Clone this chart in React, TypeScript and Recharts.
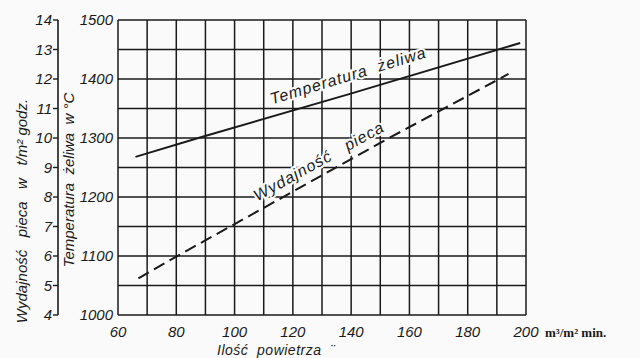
import React from 'react';
import { LineChart, Line, XAxis, YAxis, CartesianGrid, ReferenceDot } from 'recharts';

const tempAir = [66, 89, 139, 198];
const tempValues = [1268, 1302, 1374, 1461];
const wydAir = [67, 80, 153, 194];
const wydValues = [5.24, 5.98, 10.0, 12.17];
const xTicks = [60, 70, 80, 90, 100, 110, 120, 130, 140, 150, 160, 170, 180, 190, 200];
const tempTicks = [1000, 1050, 1100, 1150, 1200, 1250, 1300, 1350, 1400, 1450, 1500];
const wydTicks = [4, 5, 6, 7, 8, 9, 10, 11, 12, 13, 14];

const tempData = tempAir.map((x, i) => ({ x, t: tempValues[i] }));
const wydData = wydAir.map((x, i) => ({ x, w: wydValues[i] }));

const FONT = '"Liberation Sans", Arial, sans-serif';
const INK = '#1a1a1a';
const BG = '#fafafa';

const italicTick = (anchor: string, dy: number, filter?: (v: number) => boolean) => (props: any) => {
  const { x, y, payload } = props;
  const v = payload.value;
  if (filter && !filter(v)) return null;
  return (
    <text x={x} y={y} dy={dy} textAnchor={anchor} fontFamily={FONT} fontStyle="italic" fontSize={15} fill={INK}>
      {v}
    </text>
  );
};

export default function App() {
  return (
    <div style={{ position: 'absolute', left: 0, top: 0, width: 640, height: 358, background: BG }}>
      <LineChart width={640} height={358} margin={{ top: 20, right: 114, bottom: 13, left: 0 }}>
        <CartesianGrid yAxisId="temp" stroke={INK} strokeWidth={1.5} strokeOpacity={1} />
        <XAxis
          dataKey="x"
          type="number"
          domain={[60, 200]}
          ticks={xTicks}
          allowDataOverflow
          height={30}
          axisLine={false}
          tickLine={false}
          tickMargin={2}
          interval={0}
          tick={italicTick('middle', 14, (v) => v % 20 === 0)}
          label={{
            content: (p: any) => {
              const vb = p.viewBox;
              return (
                <g>
                  <text x={vb.x + vb.width + 19} y={337} fontFamily='"Liberation Serif", serif' fontWeight="bold" fontSize={13} fill={INK}>
                    m³/m² min.
                  </text>
                  <text x={vb.x + 99} y={355} fontFamily={FONT} fontStyle="italic" fontSize={14} letterSpacing={0.5} fill={INK} style={{ whiteSpace: 'pre' }}>
                    Ilość  powietrza  ¨
                  </text>
                </g>
              );
            },
          }}
        />
        <YAxis
          yAxisId="temp"
          orientation="left"
          type="number"
          domain={[1000, 1500]}
          ticks={tempTicks}
          interval={0}
          width={60}
          axisLine={false}
          tickLine={false}
          tickSize={0}
          tickMargin={5}
          tick={italicTick('end', 5, (v) => v % 100 === 0)}
          label={{
            content: (p: any) => {
              const vb = p.viewBox;
              const cx = vb.x + 16;
              const cy = 180;
              return (
                <text x={cx} y={cy} transform={`rotate(-90 ${cx} ${cy})`} textAnchor="middle" fontFamily={FONT} fontStyle="italic" fontSize={15} fill={INK} style={{ whiteSpace: 'pre' }}>
                  Temperatura  żeliwa  w °C
                </text>
              );
            },
          }}
        />
        <YAxis
          yAxisId="wyd"
          orientation="left"
          type="number"
          domain={[4, 14]}
          ticks={wydTicks}
          interval={0}
          width={58}
          axisLine={{ stroke: INK, strokeWidth: 1.6 }}
          tickLine={{ stroke: INK, strokeWidth: 1.4 }}
          tickSize={5}
          tickMargin={1}
          tick={italicTick('end', 5)}
          label={{
            content: (p: any) => {
              const vb = p.viewBox;
              const cx = vb.x + 27;
              const cy = 211;
              return (
                <text x={cx} y={cy} transform={`rotate(-90 ${cx} ${cy})`} textAnchor="middle" fontFamily={FONT} fontStyle="italic" fontSize={15} fill={INK} style={{ whiteSpace: 'pre' }}>
                  Wydajność   pieca   w   t/m² godz.
                </text>
              );
            },
          }}
        />
        <Line
          yAxisId="temp"
          data={tempData}
          dataKey="t"
          type="linear"
          stroke={INK}
          strokeWidth={2}
          dot={false}
          isAnimationActive={false}
        />
        <Line
          yAxisId="wyd"
          data={wydData}
          dataKey="w"
          type="linear"
          stroke={INK}
          strokeWidth={2}
          strokeDasharray="12 6"
          dot={false}
          isAnimationActive={false}
        />
        <ReferenceDot
          yAxisId="temp"
          x={139}
          y={1405}
          r={1}
          fill="none"
          stroke="none"
          label={{
            content: (p: any) => {
              const vb = p.viewBox;
              const cx = vb.x + vb.width / 2;
              const cy = vb.y + vb.height / 2;
              return (
                <text x={cx} y={cy} dy={5} transform={`rotate(-17 ${cx} ${cy})`} textAnchor="middle" fontFamily={FONT} fontStyle="italic" fontSize={16} letterSpacing={1} fill={INK} stroke={BG} strokeWidth={4} paintOrder="stroke" style={{ whiteSpace: 'pre' }}>
                  Temperatura  żeliwa
                </text>
              );
            },
          }}
        />
        <ReferenceDot
          yAxisId="wyd"
          x={129}
          y={9.2}
          r={1}
          fill="none"
          stroke="none"
          label={{
            content: (p: any) => {
              const vb = p.viewBox;
              const cx = vb.x + vb.width / 2;
              const cy = vb.y + vb.height / 2;
              return (
                <text x={cx} y={cy} dy={5} transform={`rotate(-29 ${cx} ${cy})`} textAnchor="middle" fontFamily={FONT} fontStyle="italic" fontSize={16} letterSpacing={1} fill={INK} stroke={BG} strokeWidth={4} paintOrder="stroke" style={{ whiteSpace: 'pre' }}>
                  Wydajność   pieca
                </text>
              );
            },
          }}
        />
      </LineChart>
    </div>
  );
}
